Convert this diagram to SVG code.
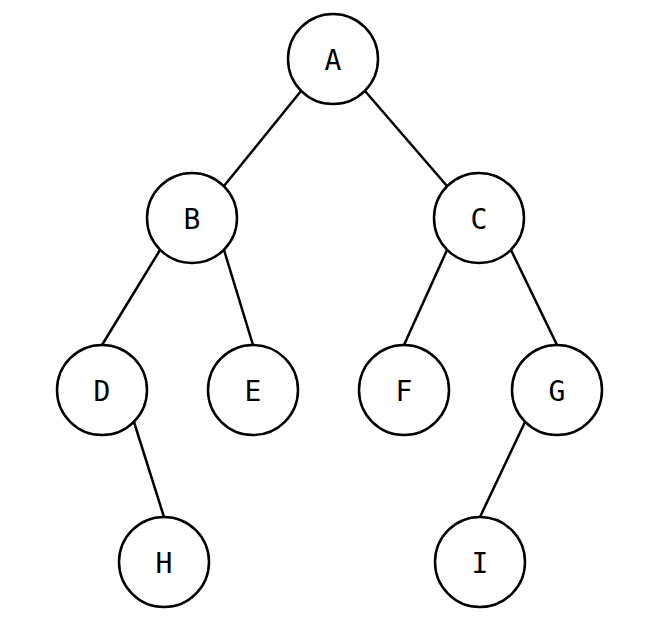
<svg xmlns="http://www.w3.org/2000/svg" width="667" height="619" viewBox="0 0 667 619">
<style>
.n circle{fill:#fff;stroke:#000;stroke-width:2.5}
.n text{font-family:"DejaVu Sans Mono",monospace;font-size:28px;fill:#000;text-anchor:middle;dominant-baseline:central}
#edges line{stroke:#000;stroke-width:2.5}
</style>
<rect width="667" height="619" fill="#fff"/>
<g id="edges">
<line x1="301" y1="91" x2="224" y2="186"/>
<line x1="365" y1="91" x2="447" y2="186"/>
<line x1="160" y1="250" x2="102" y2="345"/>
<line x1="224" y1="250" x2="253" y2="345"/>
<line x1="447" y1="250" x2="404" y2="345"/>
<line x1="511" y1="250" x2="557" y2="345"/>
<line x1="134" y1="422" x2="164" y2="517"/>
<line x1="525" y1="422" x2="480" y2="517"/>
</g>
<g id="A" class="n"><circle cx="333" cy="59" r="45"/><text x="333" y="60">A</text></g>
<g id="B" class="n"><circle cx="192" cy="218" r="45"/><text x="192" y="219">B</text></g>
<g id="C" class="n"><circle cx="479" cy="218" r="45"/><text x="479" y="219">C</text></g>
<g id="D" class="n"><circle cx="102" cy="390" r="45"/><text x="102" y="391">D</text></g>
<g id="E" class="n"><circle cx="253" cy="390" r="45"/><text x="253" y="391">E</text></g>
<g id="F" class="n"><circle cx="404" cy="390" r="45"/><text x="404" y="391">F</text></g>
<g id="G" class="n"><circle cx="557" cy="390" r="45"/><text x="557" y="391">G</text></g>
<g id="H" class="n"><circle cx="164" cy="562" r="45"/><text x="164" y="563">H</text></g>
<g id="I" class="n"><circle cx="480" cy="562" r="45"/><text x="480" y="563">I</text></g>
</svg>
